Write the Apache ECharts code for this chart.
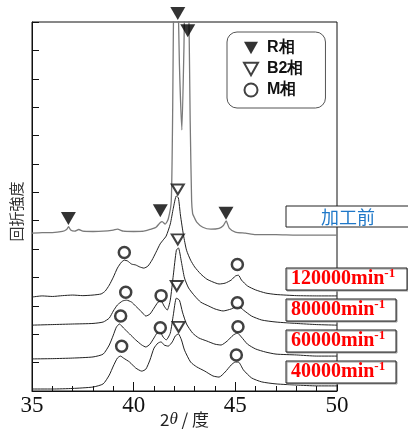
<!DOCTYPE html>
<html>
<head>
<meta charset="utf-8">
<script src="https://cdn.jsdelivr.net/npm/echarts@6/dist/echarts.min.js"></script>
<style>
  html, body { margin: 0; padding: 0; background: #fff; }
  #chart { width: 408px; height: 431px; }
</style>
</head>
<body>
<div id="chart"></div>
<script>
'use strict';
// 2θ (deg) and intensity (a.u., stacked)
var xTicks = [35, 40, 45, 50];

var theta0 = [35, 35.5, 36, 36.5, 36.7, 36.8, 36.9, 37.1, 37.3, 37.5, 38, 38.5, 39, 39.2, 39.5, 40, 40.5, 40.8, 41.1, 41.3, 41.4, 41.55, 41.7, 41.85, 41.92, 41.97, 42.05, 42.15, 42.25, 42.37, 42.47, 42.57, 42.68, 42.78, 42.85, 42.9, 42.95, 43.1, 43.4, 43.8, 44.2, 44.4, 44.55, 44.7, 45, 45.5, 46, 47, 48, 49, 50];
var before = [55.6, 55.8, 55.8, 56.2, 56.9, 57.9, 56.7, 56.3, 56.9, 56.3, 56.2, 56.3, 56.7, 57.0, 56.3, 56.2, 56.3, 56.9, 57.7, 59.3, 59.7, 58.8, 60.6, 67.0, 100, 140, 160, 150, 115, 92, 120, 160, 150, 95, 67, 62.5, 61.6, 59.5, 57.7, 57.0, 57.3, 58.2, 59.9, 57.4, 56.0, 55.6, 55.1, 55.1, 54.9, 54.9, 54.9];

var theta1 = [35, 35.5, 36, 36.5, 37, 37.5, 38, 38.4, 38.6, 38.8, 39, 39.2, 39.4, 39.55, 39.7, 39.9, 40.1, 40.3, 40.5, 40.7, 40.9, 41.1, 41.3, 41.45, 41.6, 41.8, 41.95, 42.1, 42.2, 42.3, 42.45, 42.6, 42.8, 43, 43.3, 43.6, 43.9, 44.2, 44.5, 44.8, 45, 45.15, 45.3, 45.6, 46, 46.5, 47, 48, 49, 50];
var rpm120000 = [33.1, 33.5, 33.3, 33.6, 33.8, 33.6, 33.8, 34.2, 35.2, 37.3, 40.1, 43.3, 45.4, 46.1, 45.8, 44.7, 44.4, 43.7, 43.3, 44.0, 46.1, 48.9, 51.8, 53.2, 54.6, 58.8, 64.4, 68.7, 68.0, 62.0, 54.9, 49.6, 46.1, 43.7, 41.2, 39.4, 38.4, 37.7, 38.0, 39.1, 40.5, 40.8, 39.1, 37.0, 35.6, 34.5, 34.0, 33.6, 33.5, 33.5];

var theta2 = [35, 36, 37, 38, 38.5, 38.8, 39, 39.2, 39.45, 39.65, 39.9, 40.1, 40.4, 40.6, 40.8, 41, 41.2, 41.35, 41.5, 41.65, 41.8, 41.95, 42.1, 42.2, 42.35, 42.5, 42.7, 43, 43.3, 43.7, 44, 44.4, 44.8, 45, 45.15, 45.4, 45.8, 46.3, 47, 48, 49, 50];
var rpm80000 = [23.2, 23.4, 23.6, 23.8, 24.3, 25.7, 28.2, 30.3, 31.7, 32.0, 31.3, 29.9, 27.8, 26.4, 27.1, 29.2, 31.3, 31.7, 29.9, 28.5, 32.0, 40.8, 49.6, 50.4, 45.4, 39.8, 36.3, 33.5, 31.3, 29.9, 28.9, 28.2, 28.9, 29.6, 29.9, 28.5, 26.4, 25.0, 24.3, 23.8, 23.4, 23.2];

var theta3 = [35, 36, 37, 38, 38.5, 38.8, 39, 39.15, 39.3, 39.5, 39.8, 40.1, 40.4, 40.6, 40.8, 41, 41.15, 41.3, 41.45, 41.6, 41.8, 41.95, 42.1, 42.25, 42.4, 42.6, 42.9, 43.2, 43.6, 44, 44.3, 44.6, 44.9, 45.1, 45.3, 45.6, 46, 46.5, 47, 48, 49, 50];
var rpm60000 = [11.3, 11.4, 11.6, 12.0, 13.0, 16.2, 19.7, 22.5, 23.6, 22.2, 20.1, 18.0, 16.2, 15.5, 16.5, 18.7, 20.4, 20.8, 19.0, 18.0, 20.4, 26.8, 32.7, 32.0, 27.8, 23.6, 20.4, 18.7, 17.6, 16.5, 16.2, 17.6, 19.7, 20.4, 19.0, 16.5, 14.8, 13.7, 13.0, 12.7, 12.3, 12.3];

var theta4 = [35, 36, 37, 38, 38.5, 38.8, 39, 39.2, 39.35, 39.5, 39.8, 40.1, 40.4, 40.6, 40.8, 41, 41.2, 41.35, 41.5, 41.7, 41.9, 42.05, 42.2, 42.35, 42.5, 42.8, 43.1, 43.5, 43.9, 44.2, 44.5, 44.8, 45, 45.15, 45.4, 45.8, 46.3, 47, 48, 49, 50];
var rpm40000 = [0.7, 0.7, 0.9, 1.4, 2.5, 5.6, 8.8, 11.6, 12.3, 11.6, 10.2, 8.1, 7.0, 7.7, 10.9, 15.1, 16.9, 17.3, 16.2, 15.8, 17.3, 19.4, 20.1, 18.0, 14.4, 10.2, 8.5, 7.0, 5.3, 4.9, 6.7, 9.2, 10.2, 10.2, 7.4, 4.6, 3.2, 2.5, 2.1, 1.8, 1.8];

// phase markers [2θ, height]
var rPhase = [[42.17, 133.0], [42.66, 126.9], [36.79, 60.8], [41.31, 63.5], [44.54, 62.6]];
var b2Phase = [[42.17, 71.0], [42.17, 53.4], [42.12, 37.0], [42.21, 22.6]];
var mPhase = [[39.54, 48.8], [45.1, 44.6], [39.61, 34.8], [41.35, 33.6], [45.1, 31.1], [39.36, 26.4], [41.31, 22.3], [45.13, 22.6], [39.41, 15.8], [45.05, 12.7]];

var labels = ['加工前', '120000', '80000', '60000', '40000'];

function pairs(xs, ys) {
	return xs.map(function(x, i) { return [x, ys[i]]; });
}

var downTri = 'path://M0,0 L10,0 L5,9 Z';

var myChart = echarts.init(document.getElementById('chart'));

var lineSeries = [
	{ data: pairs(theta0, before), color: '#7a7a7a', width: 1.3 },
	{ data: pairs(theta1, rpm120000), color: '#222', width: 1 },
	{ data: pairs(theta2, rpm80000), color: '#222', width: 1 },
	{ data: pairs(theta3, rpm60000), color: '#222', width: 1 },
	{ data: pairs(theta4, rpm40000), color: '#222', width: 1 }
].map(function(s, i) {
	return {
		name: labels[i],
		type: 'line',
		data: s.data,
		showSymbol: false,
		smooth: 0.2,
		silent: true,
		lineStyle: { color: s.color, width: s.width },
		z: 2
	};
});

var option = {
	animation: false,
	backgroundColor: '#fff',
	grid: {
		left: 32, top: 22, right: 71, bottom: 40,
		outerBoundsMode: 'none',
		containLabel: false,
		show: true, borderColor: '#111', borderWidth: 1
	},
	legend: {
		orient: 'vertical',
		left: 227, top: 32,
		padding: [8, 22, 10, 16],
		itemGap: 5,
		itemWidth: 14, itemHeight: 13,
		borderColor: '#555', borderWidth: 1, borderRadius: 10,
		backgroundColor: '#fff',
		textStyle: { fontSize: 16, fontWeight: 'bold', color: '#111', fontFamily: 'Liberation Sans', padding: [0, 0, 0, 4] },
		data: ['R相', 'B2相', 'M相']
	},
	xAxis: {
		type: 'value',
		min: 35, max: 50, interval: 5,
		axisLine: { lineStyle: { color: '#111' } },
		axisTick: { inside: true, length: 9, lineStyle: { color: '#111' } },
		minorTick: { show: true, splitNumber: 5, length: 5, lineStyle: { color: '#111' } },
		splitLine: { show: false },
		axisLabel: { fontFamily: 'Liberation Serif', fontSize: 23, color: '#111', margin: 3 },
		name: '{a|2}{b|θ}{a| / 度}',
		nameLocation: 'middle',
		nameGap: 20,
		nameMoveOverlap: false,
		nameTextStyle: {
			rich: {
				a: { fontFamily: 'Noto Sans CJK JP', fontSize: 17, color: '#222' },
				b: { fontFamily: 'Liberation Serif', fontStyle: 'italic', fontSize: 17, color: '#222' }
			}
		}
	},
	yAxis: {
		type: 'value',
		min: 0, max: 130, interval: 10,
		axisLine: { lineStyle: { color: '#111' } },
		axisTick: { inside: true, length: 7, lineStyle: { color: '#111' } },
		axisLabel: { show: false },
		splitLine: { show: false },
		name: '回折強度',
		nameLocation: 'middle',
		nameRotate: 90,
		nameGap: 8,
		nameMoveOverlap: false,
		nameTextStyle: { fontFamily: 'Noto Sans CJK JP', fontSize: 15, color: '#333', padding: [0, 10, 0, 0] }
	},
	series: lineSeries.concat([
		{
			name: 'R相', type: 'scatter', data: rPhase, clip: false,
			symbol: downTri, symbolSize: [15, 13],
			itemStyle: { color: '#000' }, z: 5
		},
		{
			name: 'B2相', type: 'scatter', data: b2Phase, clip: false,
			symbol: downTri, symbolSize: [12, 10],
			itemStyle: { color: '#fff', borderColor: '#111', borderWidth: 2 }, z: 5
		},
		{
			name: 'M相', type: 'scatter', data: mPhase, clip: false,
			symbol: 'circle', symbolSize: 11,
			itemStyle: { color: '#fff', borderColor: '#111', borderWidth: 2.5 }, z: 5
		}
	]),
	graphic: [
		{ type: 'rect', shape: { x: 286, y: 206, width: 130, height: 21 }, style: { fill: '#fff', stroke: '#222', lineWidth: 1 }, z: 10 },
		{ type: 'text', x: 348, y: 217, style: { text: '加工前', fill: '#1f78c8', font: '18px "Noto Sans CJK JP"', align: 'center', verticalAlign: 'middle' }, z: 11 },
		{ type: 'rect', shape: { x: 286, y: 268, width: 121, height: 22 }, style: { fill: '#fff', stroke: '#222', lineWidth: 1, shadowColor: '#999', shadowOffsetX: 1, shadowOffsetY: 1 }, z: 10 },
		{ type: 'rect', shape: { x: 286, y: 299, width: 110, height: 22 }, style: { fill: '#fff', stroke: '#222', lineWidth: 1, shadowColor: '#999', shadowOffsetX: 1, shadowOffsetY: 1 }, z: 10 },
		{ type: 'rect', shape: { x: 286, y: 330, width: 110, height: 22 }, style: { fill: '#fff', stroke: '#222', lineWidth: 1, shadowColor: '#999', shadowOffsetX: 1, shadowOffsetY: 1 }, z: 10 },
		{ type: 'rect', shape: { x: 286, y: 361, width: 110, height: 22 }, style: { fill: '#fff', stroke: '#222', lineWidth: 1, shadowColor: '#999', shadowOffsetX: 1, shadowOffsetY: 1 }, z: 10 }
	].concat([[labels[1], 279], [labels[2], 310], [labels[3], 341], [labels[4], 372]].map(function(t) {
		return {
			type: 'text', x: 291, y: t[1], z: 11,
			style: {
				text: '{a|' + t[0] + 'min}{s|-1}',
				verticalAlign: 'middle',
				rich: {
					a: { fontFamily: 'Liberation Serif', fontWeight: 'bold', fontSize: 20, fill: '#ff0000' },
					s: { fontFamily: 'Liberation Serif', fontWeight: 'bold', fontSize: 13, fill: '#ff0000', padding: [0, 0, 10, 0] }
				}
			}
		};
	}))
};

myChart.setOption(option);
</script>
</body>
</html>
